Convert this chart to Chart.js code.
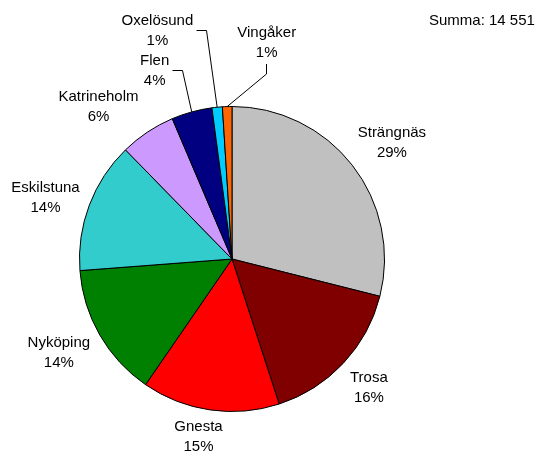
<!DOCTYPE html>
<html>
<head>
<meta charset="utf-8">
<script src="https://cdn.jsdelivr.net/npm/chart.js@4"></script>
<style>
  html, body { margin: 0; padding: 0; background: #ffffff; }
  #wrap { width: 539px; height: 451px; }
</style>
</head>
<body>
<div id="wrap"><canvas id="chart" width="539" height="451"></canvas></div>
<script>
const kommuner = ['Strängnäs', 'Trosa', 'Gnesta', 'Nyköping', 'Eskilstuna', 'Katrineholm', 'Flen', 'Oxelösund', 'Vingåker'];
const antal = [4210, 2337, 2124, 2066, 2023, 859, 626, 160, 146];
const farger = ['#c0c0c0', '#800000', '#ff0000', '#008000', '#33cccc', '#cc99ff', '#000080', '#00ccff', '#ff6600'];

// etiketter som flyttats för hand (relativt cirkelns mitt) och deras linjer
const flyttade = {
    'Gnesta': [-33.5, 178],
    'Eskilstuna': [-186.5, -61.5],
    'Katrineholm': [-133.5, -152.5],
    'Flen': [-77.3, -188.5],
    'Oxelösund': [-74.6, -227.8],
    'Vingåker': [34.7, -215.8]
};
const linjer = { 'Flen': 'sida', 'Oxelösund': 'sida', 'Vingåker': 'under' };

const FONT = '15px "Liberation Sans", Arial, sans-serif';
const summa = antal.reduce((a, b) => a + b, 0);

const etiketter = {
    id: 'etiketter',
    afterDraw(chart) {
        const ctx = chart.ctx;
        const meta = chart.getDatasetMeta(0);
        ctx.save();
        ctx.font = FONT;
        ctx.fillStyle = '#000000';
        ctx.strokeStyle = '#000000';
        ctx.lineWidth = 1;
        ctx.textAlign = 'center';
        ctx.textBaseline = 'middle';

        meta.data.forEach((arc, i) => {
            const p = arc.getProps(['x', 'y', 'startAngle', 'endAngle', 'outerRadius']);
            const mid = (p.startAngle + p.endAngle) / 2;
            const c = Math.cos(mid), s = Math.sin(mid);
            const namn = kommuner[i];
            const pct = Math.round(antal[i] / summa * 100) + '%';
            const w = Math.max(ctx.measureText(namn).width, ctx.measureText(pct).width);
            const h = 40;

            let cx, cy;
            if (flyttade[namn]) {
                cx = p.x + flyttade[namn][0];
                cy = p.y + flyttade[namn][1];
            } else {
                const r = p.outerRadius + 16;
                cx = p.x + r * c + c * w / 2;
                cy = p.y + r * s + s * h / 2;
                cy = Math.min(cy, chart.height - 13.5);
            }

            ctx.fillText(namn, cx, cy - 10);
            ctx.fillText(pct, cx, cy + 10);

            const ax = p.x + p.outerRadius * c;
            const ay = p.y + p.outerRadius * s;
            if (linjer[namn] === 'sida') {
                const x0 = Math.round(cx + ctx.measureText(namn).width / 2 + 3) + 0.5;
                const y0 = Math.round(cy - 1) + 0.5;
                ctx.beginPath();
                ctx.moveTo(x0, y0);
                ctx.lineTo(x0 + 10, y0);
                ctx.lineTo(ax, ay);
                ctx.stroke();
            } else if (linjer[namn] === 'under') {
                const x0 = Math.round(cx - 1) + 0.5;
                const y0 = Math.round(cy + 21);
                ctx.beginPath();
                ctx.moveTo(x0, y0);
                ctx.lineTo(x0, y0 + 10);
                ctx.lineTo(ax, ay);
                ctx.stroke();
            }
        });

        // summa uppe till höger
        ctx.textAlign = 'left';
        const txt = 'Summa: ' + summa.toLocaleString('sv-SE').replace(/\s/g, ' ');
        ctx.fillText(txt, 429, 21);
        ctx.restore();
    }
};

new Chart(document.getElementById('chart').getContext('2d'), {
    type: 'pie',
    data: {
        labels: kommuner,
        datasets: [{
            data: antal,
            backgroundColor: farger,
            borderColor: '#000000',
            borderWidth: 1,
            hoverOffset: 0
        }]
    },
    options: {
        responsive: false,
        animation: false,
        layout: { padding: { left: 79, right: 154, top: 106, bottom: 39 } },
        plugins: {
            legend: { display: false },
            tooltip: { enabled: false }
        }
    },
    plugins: [etiketter]
});
</script>
</body>
</html>
